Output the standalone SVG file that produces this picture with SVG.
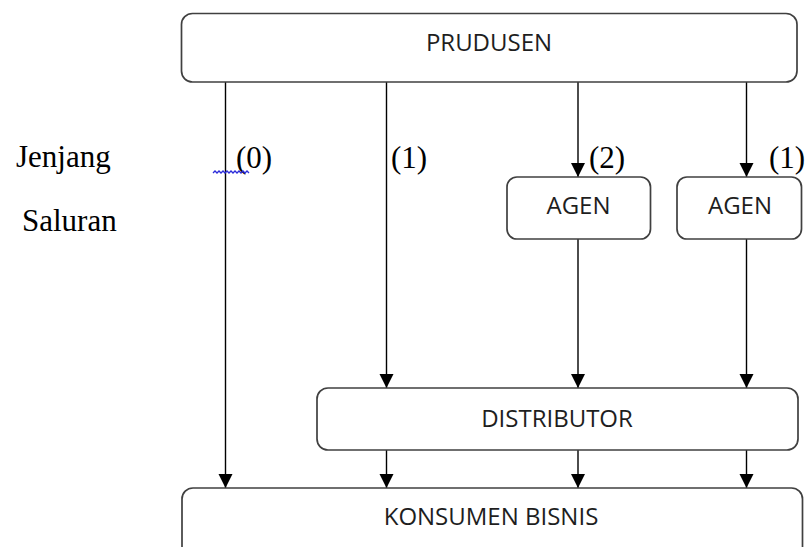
<svg xmlns="http://www.w3.org/2000/svg" width="806" height="547" viewBox="0 0 806 547">
<defs>
<marker id="arr" markerUnits="userSpaceOnUse" markerWidth="16" markerHeight="15" refX="14" refY="7" orient="auto">
<path d="M0,0 L14,7 L0,14 Z" fill="#000"/>
</marker>
<style>
.box{fill:#fff;stroke:#404040;stroke-width:1.7}
.lbl{font-family:"Open Sans","Liberation Sans",sans-serif;font-size:24px;fill:#1e1e1e;text-anchor:middle}
.ser{font-family:"Liberation Serif","Times New Roman",serif;font-size:31px;fill:#000}
.con{stroke:#000;stroke-width:1.4;fill:none}
.arw{marker-end:url(#arr)}
</style>
</defs>
<rect width="806" height="547" fill="#fff"/>
<g id="connectors">
<line class="con arw" x1="225.5" y1="82" x2="225.5" y2="488"/>
<line class="con arw" x1="386.5" y1="82" x2="386.5" y2="388"/>
<line class="con arw" x1="386.5" y1="450" x2="386.5" y2="488"/>
<line class="con arw" x1="578" y1="82" x2="578" y2="177"/>
<line class="con arw" x1="578" y1="239" x2="578" y2="388"/>
<line class="con arw" x1="578" y1="450" x2="578" y2="488"/>
<line class="con arw" x1="746.5" y1="82" x2="746.5" y2="177"/>
<line class="con arw" x1="746.5" y1="239" x2="746.5" y2="388"/>
<line class="con arw" x1="746.5" y1="450" x2="746.5" y2="488"/>
</g>
<g id="prudusen">
<rect class="box" x="181.5" y="13.5" width="615.5" height="68.5" rx="11"/>
<text class="lbl" x="489" y="51">PRUDUSEN</text>
</g>
<g id="agen1">
<rect class="box" x="507" y="177" width="143.5" height="62" rx="10"/>
<text class="lbl" x="578.5" y="214">AGEN</text>
</g>
<g id="agen2">
<rect class="box" x="677" y="177" width="124.5" height="62" rx="10"/>
<text class="lbl" x="740" y="214">AGEN</text>
</g>
<g id="distributor">
<rect class="box" x="317" y="388" width="481" height="62" rx="11"/>
<text class="lbl" x="557" y="427">DISTRIBUTOR</text>
</g>
<g id="konsumen">
<rect class="box" x="182" y="488" width="620.5" height="80" rx="11"/>
<text class="lbl" x="491" y="525">KONSUMEN BISNIS</text>
</g>
<g id="labels">
<text class="ser" x="16" y="167">Jenjang</text>
<text class="ser" x="22" y="231">Saluran</text>
<text class="ser" x="236" y="168">(0)</text>
<text class="ser" x="391" y="168">(1)</text>
<text class="ser" x="589" y="168">(2)</text>
<text class="ser" x="769" y="168">(1)</text>
<path d="M213,173 l2,-2 l2,2 l2,-2 l2,2 l2,-2 l2,2 l2,-2 l2,2 l2,-2 l2,2 l2,-2 l2,2 l2,-2 l2,2 l2,-2 l2,2 l2,-2 l2,2" fill="none" stroke="#2b2bd9" stroke-width="1.3"/>
</g>
</svg>
